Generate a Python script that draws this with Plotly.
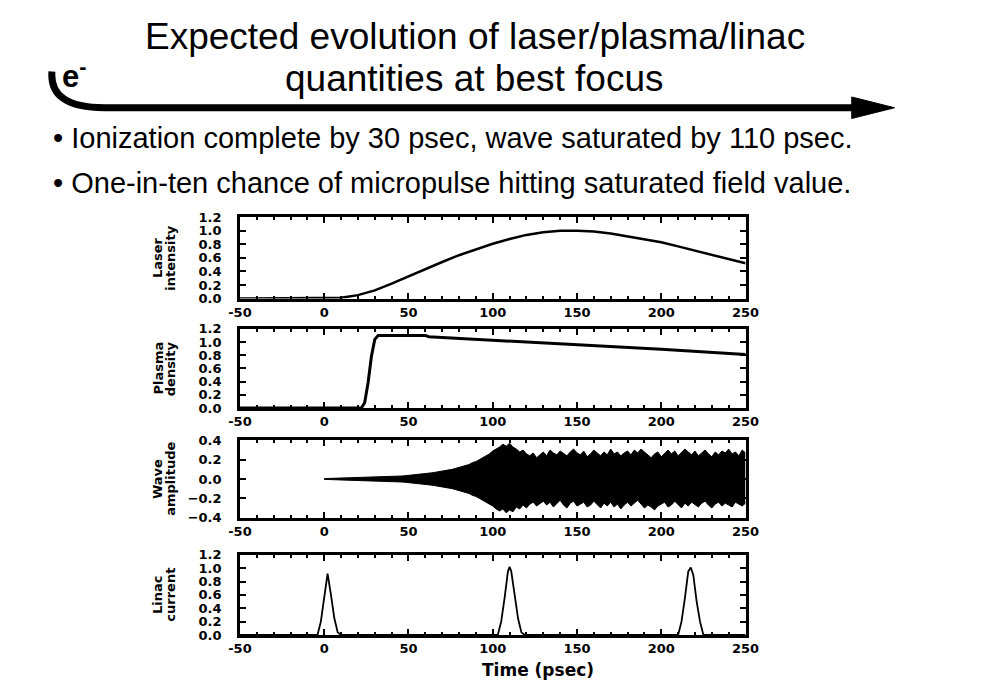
import plotly.graph_objects as go

# ---------------- data ----------------
laser_t = [-50, 0, 10, 20, 30, 40, 50, 60, 70, 80, 90, 100, 110, 120, 130, 140, 150,
           160, 170, 180, 190, 200, 210, 220, 230, 240, 250]
laser_v = [0.0, 0.0, 0.01, 0.05, 0.12, 0.22, 0.33, 0.44, 0.54, 0.64, 0.73, 0.81, 0.88,
           0.94, 0.98, 1.0, 1.0, 0.99, 0.96, 0.92, 0.88, 0.83, 0.77, 0.71, 0.65, 0.58, 0.52]

plasma_t = [-50, 22, 24, 26, 28, 30, 32, 40, 60, 62, 100, 150, 200, 250]
plasma_v = [0.0, 0.0, 0.08, 0.38, 0.78, 1.04, 1.10, 1.10, 1.10, 1.08, 1.03, 0.96, 0.89, 0.81]

wave_t = list(range(0, 252, 2))
wave_upper = [0.004, 0.005, 0.006, 0.006, 0.007, 0.008, 0.008, 0.009, 0.010, 0.011,
              0.012, 0.013, 0.014, 0.015, 0.016, 0.018, 0.019, 0.020, 0.022, 0.023,
              0.025, 0.027, 0.029, 0.031, 0.034, 0.037, 0.040, 0.043, 0.047, 0.050,
              0.055, 0.060, 0.064, 0.070, 0.075, 0.082, 0.088, 0.095, 0.10, 0.11,
              0.12, 0.13, 0.14, 0.15, 0.17, 0.18, 0.20, 0.22, 0.24, 0.26,
              0.29, 0.31, 0.33, 0.36, 0.34, 0.37, 0.33, 0.31, 0.28, 0.30,
              0.26, 0.24, 0.27, 0.22, 0.25, 0.28, 0.24, 0.30, 0.27, 0.25,
              0.29, 0.26, 0.24, 0.28, 0.31, 0.27, 0.25, 0.29, 0.23, 0.26,
              0.30, 0.27, 0.24, 0.28, 0.25, 0.31, 0.26, 0.28, 0.24, 0.27,
              0.29, 0.25, 0.30, 0.27, 0.31, 0.28, 0.25, 0.22, 0.26, 0.28,
              0.23, 0.27, 0.30, 0.26, 0.29, 0.24, 0.27, 0.31, 0.28, 0.25,
              0.29, 0.24, 0.27, 0.30, 0.26, 0.23, 0.28, 0.25, 0.29, 0.27,
              0.31, 0.26, 0.28, 0.24, 0.30, 0.27]
wave_lower = [-0.004, -0.005, -0.006, -0.006, -0.007, -0.008, -0.008, -0.009, -0.010, -0.011,
              -0.012, -0.013, -0.014, -0.015, -0.016, -0.018, -0.019, -0.020, -0.022, -0.023,
              -0.025, -0.027, -0.029, -0.031, -0.034, -0.037, -0.040, -0.043, -0.047, -0.050,
              -0.055, -0.060, -0.064, -0.070, -0.075, -0.082, -0.088, -0.095, -0.10, -0.11,
              -0.12, -0.13, -0.14, -0.15, -0.17, -0.18, -0.20, -0.22, -0.24, -0.26,
              -0.28, -0.31, -0.33, -0.31, -0.35, -0.32, -0.34, -0.29, -0.31, -0.27,
              -0.30, -0.26, -0.24, -0.28, -0.25, -0.23, -0.27, -0.24, -0.29, -0.26,
              -0.22, -0.27, -0.30, -0.25, -0.23, -0.28, -0.26, -0.24, -0.29, -0.27,
              -0.23, -0.26, -0.30, -0.25, -0.28, -0.24, -0.29, -0.26, -0.31, -0.27,
              -0.24, -0.28, -0.25, -0.22, -0.26, -0.30, -0.27, -0.29, -0.32, -0.28,
              -0.26, -0.24, -0.29, -0.27, -0.23, -0.26, -0.30, -0.25, -0.28, -0.24,
              -0.27, -0.29, -0.25, -0.23, -0.27, -0.30, -0.26, -0.24, -0.28, -0.25,
              -0.27, -0.29, -0.24, -0.26, -0.28, -0.25]

linac_t = [-50, -4, -2, 0, 2, 4, 6, 8, 10,
           103, 105, 107, 109, 110, 111, 113, 115, 117, 119,
           210, 212, 214, 216, 217.5, 219, 221, 223, 225, 250]
linac_v = [0.0, 0.0, 0.2, 0.55, 0.92, 0.6, 0.25, 0.04, 0.0,
           0.0, 0.2, 0.55, 0.95, 1.02, 0.95, 0.6, 0.25, 0.04, 0.0,
           0.0, 0.2, 0.55, 0.95, 1.01, 0.9, 0.5, 0.2, 0.0, 0.0]

x_ticks = [-50, 0, 50, 100, 150, 200, 250]
panel_titles = [("Laser", "intensity"), ("Plasma", "density"),
                ("Wave", "amplitude"), ("Linac", "current")]
title_lines = ["Expected evolution of laser/plasma/linac", "quantities at best focus"]
bullets = ["\u2022 Ionization complete by 30 psec, wave saturated by 110 psec.",
           "\u2022 One-in-ten chance of micropulse hitting saturated field value."]

# ---------------- layout helpers ----------------
W, H = 1006, 689
def px(x):
    return x / W
def py(y):
    return 1 - y / H

panels_px = [(215, 298), (329, 410), (443, 522), (560, 642)]
x_dom = [px(234), px(753)]

fig = go.Figure()

tickfont = dict(family="DejaVu Sans", size=13, color="black", weight="bold")

fig.add_trace(go.Scatter(x=laser_t, y=laser_v, mode="lines", line=dict(color="black", width=2.5),
                         xaxis="x", yaxis="y", showlegend=False))
fig.add_trace(go.Scatter(x=plasma_t, y=plasma_v, mode="lines", line=dict(color="black", width=3),
                         xaxis="x2", yaxis="y2", showlegend=False))
fig.add_trace(go.Scatter(x=wave_t, y=wave_lower, mode="lines", line=dict(color="black", width=1),
                         xaxis="x3", yaxis="y3", showlegend=False))
fig.add_trace(go.Scatter(x=wave_t, y=wave_upper, mode="lines", line=dict(color="black", width=1),
                         fill="tonexty", fillcolor="black",
                         xaxis="x3", yaxis="y3", showlegend=False))
fig.add_trace(go.Scatter(x=linac_t, y=linac_v, mode="lines", line=dict(color="black", width=1.8),
                         xaxis="x4", yaxis="y4", showlegend=False))

yranges = [[0, 1.2], [0, 1.2], [-0.4, 0.4], [0, 1.2]]
layout = {}
for i, (top, bot) in enumerate(panels_px):
    n = "" if i == 0 else str(i + 1)
    layout["xaxis" + n] = dict(
        domain=x_dom, range=[-50, 250], anchor="y" + n,
        tickmode="array", tickvals=x_ticks, ticktext=[str(v) for v in x_ticks],
        ticks="inside", ticklen=6, tickwidth=2, tickcolor="black",
        minor=dict(ticks="inside", tick0=-50, dtick=10, ticklen=3, tickwidth=1.5, tickcolor="black"),
        showline=True, linewidth=2.5, linecolor="black", mirror="ticks",
        showgrid=False, zeroline=False, tickfont=tickfont, ticklabelstandoff=0,
    )
    layout["yaxis" + n] = dict(
        domain=[py(bot), py(top)], range=yranges[i], anchor="x" + n,
        tickmode="linear", dtick=0.2, tickformat=".1f",
        ticks="inside", ticklen=6, tickwidth=2, tickcolor="black",
        showline=True, linewidth=2.5, linecolor="black", mirror="ticks",
        showgrid=False, zeroline=False, tickfont=tickfont, ticklabelstandoff=13,
    )

afont = dict(family="DejaVu Sans", size=13, color="black", weight="bold")
annotations = []
for i, (top, bot) in enumerate(panels_px):
    yc = py((top + bot) / 2)
    l1, l2 = panel_titles[i]
    annotations.append(dict(x=px(150), y=yc, xref="paper", yref="paper", text=l1, textangle=-90,
                            xanchor="center", yanchor="middle", showarrow=False, font=afont))
    annotations.append(dict(x=px(163), y=yc, xref="paper", yref="paper", text=l2, textangle=-90,
                            xanchor="center", yanchor="middle", showarrow=False, font=afont))

annotations.append(dict(x=px(540), y=py(678), xref="paper", yref="paper", text="Time (psec)",
                        xanchor="center", yanchor="middle", showarrow=False,
                        font=dict(family="DejaVu Sans", size=17, color="black", weight="bold")))

tfont = dict(family="Liberation Sans", size=37, color="black")
bfont = dict(family="Liberation Sans", size=29, color="black")
annotations.append(dict(x=px(475), y=py(30), xref="paper", yref="paper", text=title_lines[0],
                        xanchor="center", yanchor="middle", showarrow=False, font=tfont))
annotations.append(dict(x=px(474), y=py(73), xref="paper", yref="paper", text=title_lines[1],
                        xanchor="center", yanchor="middle", showarrow=False, font=tfont))
annotations.append(dict(x=px(40), y=py(134), xref="paper", yref="paper", text=bullets[0],
                        xanchor="left", yanchor="middle", showarrow=False, font=bfont))
annotations.append(dict(x=px(40), y=py(180), xref="paper", yref="paper", text=bullets[1],
                        xanchor="left", yanchor="middle", showarrow=False, font=bfont))
annotations.append(dict(x=px(64), y=py(68), xref="paper", yref="paper", text="e<sup>-</sup>",
                        xanchor="center", yanchor="middle", showarrow=False,
                        font=dict(family="Liberation Sans", size=31, color="black", weight="bold")))

def P(x, y):
    return f"{px(x):.5f},{py(y):.5f}"

shapes = [
    dict(type="path", xref="paper", yref="paper",
         path=f"M {P(41, 66)} Q {P(38, 103)} {P(95, 103)} L {P(868, 103)}",
         line=dict(color="black", width=7)),
    dict(type="path", xref="paper", yref="paper",
         path=f"M {P(862, 92)} L {P(906, 103)} L {P(862, 114)} Z",
         fillcolor="black", line=dict(color="black", width=1)),
]

fig.update_layout(
    width=W, height=H, margin=dict(l=0, r=0, t=0, b=0),
    paper_bgcolor="white", plot_bgcolor="white",
    annotations=annotations, shapes=shapes, showlegend=False,
    **layout,
)

fig.write_html("out.html")
